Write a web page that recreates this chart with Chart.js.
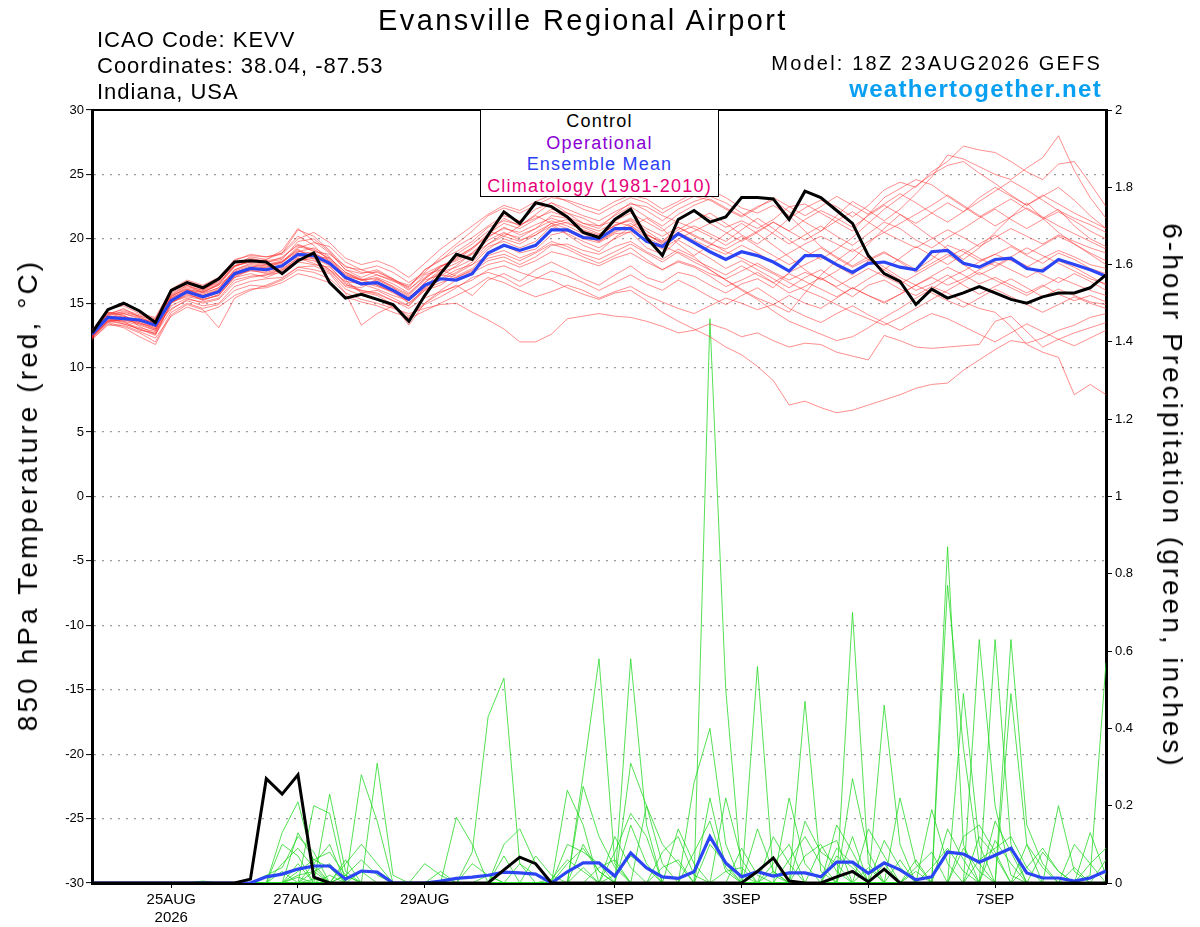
<!DOCTYPE html>
<html>
<head>
<meta charset="utf-8">
<script src="https://cdn.jsdelivr.net/npm/chart.js"></script>
<style>
  body { margin: 0; background: #fff; }
  #wrap { position: relative; width: 1200px; height: 927px; font-family: "Liberation Sans", Arial, sans-serif; }
  .t { position: absolute; white-space: nowrap; color: #000; line-height: 1; }
  #legend { position: absolute; left: 480px; top: 109px; width: 237px; height: 85px; border: 1px solid #000; background: #fff;
            text-align: center; font-size: 18px; letter-spacing: 1.2px; line-height: 21.5px; padding-top: 1px; }
</style>
</head>
<body>
<div id="wrap">
  <canvas id="mychart"></canvas>
  <div class="t" style="left:378px;top:6px;font-size:29px;letter-spacing:2.4px">Evansville Regional Airport</div>
  <div class="t" style="left:97px;top:29px;font-size:22px;letter-spacing:1px">ICAO Code: KEVV</div>
  <div class="t" style="left:97px;top:55px;font-size:22px;letter-spacing:1px">Coordinates: 38.04, -87.53</div>
  <div class="t" style="left:97px;top:81px;font-size:22px;letter-spacing:1px">Indiana, USA</div>
  <div class="t" style="right:98px;top:53px;font-size:20px;letter-spacing:2.2px">Model: 18Z 23AUG2026 GEFS</div>
  <div class="t" style="right:98px;top:77px;font-size:24px;font-weight:bold;letter-spacing:1.3px;color:#0aa0f2">weathertogether.net</div>
  <div class="t" style="left:28px;top:495px;font-size:28px;letter-spacing:3.1px;transform:translate(-50%,-50%) rotate(-90deg)">850 hPa Temperature (red, °C)</div>
  <div class="t" style="left:1172px;top:496px;font-size:28px;letter-spacing:3px;transform:translate(-50%,-50%) rotate(90deg)">6-hour Precipitation (green, inches)</div>
  <div id="legend">
    <div style="color:#000">Control</div>
    <div style="color:#8a00d4">Operational</div>
    <div style="color:#2b3ff5">Ensemble Mean</div>
    <div style="color:#e6007a">Climatology (1981-2010)</div>
  </div>
</div>
<script>
// x ticks (6-hourly steps from 18Z 23AUG)
var tickPos  = [5, 13, 21, 33, 41, 49, 57]
var tickText = ['25AUG', '27AUG', '29AUG', '1SEP', '3SEP', '5SEP', '7SEP']
var tickYear = ['2026', '', '', '', '', '', '']

// control and ensemble mean, 850 hPa temperature
var ctrlT = [12.7,14.5,15.0,14.4,13.5, 16.0,16.6,16.2,16.9,18.2, 18.3,18.2,17.3,18.3,18.9, 16.6,15.4,15.7,15.3,14.9,
  13.6,15.6,17.3,18.8,18.4, 20.3,22.1,21.2,22.8,22.5, 21.7,20.5,20.1,21.5,22.3, 20.1,18.7,21.5,22.2,21.3,
  21.7,23.2,23.2,23.1,21.5, 23.7,23.2,22.2,21.2,18.7, 17.3,16.7,14.9,16.1,15.4, 15.8,16.3,15.8,15.3,15.0,
  15.5,15.8,15.8,16.2,17.2]
var meanT = [12.6,13.9,13.8,13.7,13.3, 15.2,15.9,15.5,15.9,17.3, 17.7,17.6,17.9,18.8,18.7, 18.1,17.0,16.5,16.6,16.0,
  15.3,16.4,16.9,16.8,17.3, 18.9,19.5,19.1,19.5,20.7, 20.7,20.1,20.0,20.8,20.8, 19.8,19.4,20.4,19.7,19.0,
  18.4,19.0,18.7,18.2,17.5, 18.7,18.7,18.0,17.4,18.1, 18.2,17.8,17.6,19.0,19.1, 18.1,17.8,18.4,18.5,17.7,
  17.5,18.4,18.0,17.6,17.1]

// ensemble members, temperature
var memT1 = [12.4,13.6,13.9,13.5,13.0, 15.5,16.3,16.0,16.8,17.9, 18.3,18.1,18.6,19.5,19.2, 18.4,17.2,16.8,17.0,16.5, 15.8,16.9,17.8,18.6,19.3, 20.4,21.2,20.8,21.5,22.3, 22.0,21.6,21.0,21.8,22.5, 21.7,21.0,21.9,22.6,23.1, 22.4,21.8,22.5,23.0,22.1, 21.3,20.6,21.8,22.9,22.2, 21.4,22.3,23.5,24.8,26.5, 26.2,25.6,25.0,24.6,25.5, 26.3,28.0,25.3,23.2,21.6]
var memT2 = [12.8,14.2,14.1,13.2,12.6, 15.0,15.7,15.3,15.6,17.0, 17.6,17.8,18.2,19.2,18.4, 17.6,16.4,16.2,16.9,16.3, 15.0,16.0,16.4,17.3,18.0, 19.2,20.0,19.6,20.3,21.2, 21.5,20.9,20.4,21.0,21.5, 20.6,19.8,20.7,21.4,22.0, 21.2,20.3,19.6,20.5,21.6, 22.4,23.0,22.5,21.7,22.6, 23.8,24.4,24.0,25.2,26.0, 27.2,26.9,26.7,26.0,25.2, 24.6,25.8,26.0,24.3,22.5]
var memT3 = [12.5,13.8,13.5,13.1,12.8, 14.8,15.4,15.0,15.3,16.6, 17.0,17.2,17.4,18.2,18.0, 17.8,16.6,16.0,15.8,15.2, 14.6,15.4,15.9,16.3,16.8, 17.6,17.9,17.4,17.0,16.8, 16.2,15.7,15.3,15.8,16.0, 15.2,14.3,13.6,13.0,12.4, 11.6,11.0,10.1,9.0,7.1, 7.4,6.9,6.5,6.7,7.1, 7.5,7.9,8.4,8.7,8.8, 9.8,10.6,11.4,12.1,11.9, 12.3,12.9,13.3,13.9,14.2]
var memT4 = [12.7,14.0,14.4,14.0,13.6, 15.6,16.1,15.8,16.2,17.5, 17.9,17.7,17.9,18.6,18.9, 18.2,16.9,16.4,16.8,16.2, 15.6,16.8,17.2,17.0,17.6, 18.5,18.8,18.3,18.9,19.6, 19.2,18.6,18.1,18.7,19.3, 18.4,17.6,18.2,17.8,17.1, 16.3,16.8,17.4,16.6,15.8, 16.3,17.0,16.2,15.5,16.4, 16.8,16.1,15.6,16.3,15.8, 15.1,14.6,14.3,13.2,11.8, 11.2,10.8,7.9,8.7,7.9]
var memT5 = [12.3,13.5,13.2,12.7,12.0, 14.3,15.0,14.6,14.9,16.0, 16.4,16.3,16.8,17.6,17.4, 16.9,15.8,15.3,15.0,14.6, 14.2,14.6,14.9,15.0,14.3, 13.7,13.0,12.0,12.0,12.6, 13.8,14.0,14.2,14.0,13.9, 13.6,13.2,12.7,12.9,13.4, 13.0,12.4,12.7,12.1,11.6, 11.9,11.8,11.2,10.9,10.6, 12.5,12.1,11.6,11.5,11.6, 11.7,11.8,13.6,14.0,12.8, 11.6,12.2,12.7,13.1,13.5]
var memT6 = [12.6,14.1,14.6,13.9,13.4, 15.9,16.6,16.1,16.7,18.1, 18.5,18.2,18.4,19.8,20.0, 19.0,17.6,17.3,17.6,16.9, 16.2,17.6,18.3,19.4,20.1, 21.0,21.8,21.4,22.3,22.8, 22.0,21.2,20.8,21.9,22.8, 22.2,21.4,22.3,22.9,23.3, 22.8,22.0,21.2,20.4,19.6, 20.3,21.0,20.2,19.5,20.4, 21.3,20.8,19.9,19.3,20.1, 20.8,21.6,22.3,21.5,20.8, 21.5,22.1,21.4,20.6,20.0]
var memT7 = [12.9,14.3,14.0,13.6,13.8, 15.4,16.0,15.9,16.4,17.4, 17.8,18.0,18.3,19.1,18.6, 18.5,17.4,16.9,16.4,15.9, 15.4,16.6,17.6,18.1,18.8, 19.6,20.4,20.1,20.8,21.4, 21.0,20.4,19.8,20.6,21.2, 20.4,19.6,20.5,21.0,20.4, 19.8,20.7,21.6,20.8,19.9, 19.1,18.4,19.2,20.1,21.2, 22.3,23.2,24.1,25.0,25.7, 26.0,25.1,24.3,23.4,22.6, 23.3,24.0,23.0,21.8,20.8]
var memT8 = [12.4,13.7,13.4,13.0,12.5, 15.0,15.8,15.2,15.7,17.0, 17.3,17.0,17.5,18.4,18.6, 18.0,17.3,16.8,17.2,16.8, 16.0,17.2,17.6,17.1,17.7, 18.9,19.5,18.9,19.2,20.3, 20.6,20.0,19.7,20.4,20.5, 19.3,18.8,19.9,19.2,18.5, 17.7,18.3,17.6,16.9,16.2, 17.0,17.6,16.8,16.1,16.9, 17.6,16.8,16.0,16.5,17.2, 16.4,15.7,16.3,16.9,16.2, 15.5,16.1,15.6,15.1,14.9]
var memT9 = [12.2,13.4,13.1,12.4,11.8, 14.1,14.9,14.5,13.1,15.4, 16.0,16.4,16.9,17.8,17.6, 17.3,15.8,13.3,14.2,14.8, 14.0,15.0,15.8,16.4,15.6, 16.8,17.3,16.7,17.6,18.2, 17.6,16.9,16.4,17.2,17.9, 17.0,16.6,17.4,17.1,16.4, 15.8,16.5,16.9,16.2,17.4, 18.0,18.6,17.9,17.2,18.3, 18.9,18.3,17.6,18.4,19.5, 19.0,18.3,18.8,19.4,18.7, 18.1,18.9,18.4,17.7,17.3]
var memT10 = [12.6,13.9,14.2,13.8,13.5, 15.3,16.0,15.7,16.2,17.6, 18.0,17.8,18.1,19.3,19.7, 19.4,18.2,17.6,17.9,17.4, 16.6,17.4,18.6,19.6,20.6, 21.8,22.4,22.0,22.6,23.2, 23.0,22.6,22.2,22.9,23.4, 23.1,22.3,22.9,23.6,23.8, 23.2,22.4,22.0,22.6,21.8, 20.6,19.4,18.6,17.9,18.6, 17.8,17.0,16.4,17.1,17.8, 17.2,16.5,17.0,16.4,15.8, 16.4,15.7,15.2,15.6,15.1]
var memT11 = [12.5,13.8,13.6,13.3,12.9, 15.1,15.6,15.4,15.8,17.2, 17.5,17.4,17.7,18.5,18.3, 17.6,16.7,16.5,16.1,15.6, 15.2,16.2,16.8,17.4,18.2, 19.4,19.8,19.3,19.8,21.0, 21.3,20.6,20.2,21.1,21.4, 20.3,19.8,20.9,20.2,19.6, 19.2,19.9,20.6,21.3,20.6, 21.5,22.2,21.6,20.9,21.8, 22.6,21.9,21.2,22.0,22.8, 22.1,23.2,24.0,23.3,22.6, 23.4,22.7,22.0,21.4,20.8]
var memT12 = [12.4,13.6,13.7,13.4,13.2, 14.6,15.2,14.8,15.0,16.3, 16.7,16.9,17.0,17.8,17.9, 17.4,16.1,15.6,15.3,14.7, 13.8,14.4,15.0,15.6,16.2, 17.0,16.6,16.0,15.5,15.9, 16.4,16.0,15.4,15.9,16.3, 15.6,15.1,14.6,14.2,14.8, 15.4,15.0,14.5,14.9,15.6, 15.0,14.6,15.4,16.2,15.6, 15.1,15.7,16.4,17.0,16.4, 16.9,17.6,18.2,17.6,17.0, 17.7,18.3,17.8,17.1,16.4]
var memT13 = [12.8,14.0,13.9,13.6,13.1, 15.4,16.1,15.6,16.1,17.6, 18.1,17.9,18.2,19.0,19.3, 18.6,17.0,16.6,16.6,16.1, 15.5,16.4,17.1,17.9,18.9, 20.1,20.9,20.3,20.8,21.8, 21.6,21.0,20.6,21.3,21.0, 20.1,19.5,18.9,18.2,17.6, 16.8,16.0,15.3,14.4,13.6, 13.1,12.6,12.1,12.4,13.1, 13.9,14.6,15.4,16.1,16.9, 17.5,18.2,18.8,18.3,17.8, 18.5,19.1,18.6,18.0,17.7]
var memT14 = [12.6,14.0,13.8,13.6,13.6, 15.7,16.4,16.0,16.5,17.9, 18.2,18.4,18.9,20.7,20.2, 19.1,17.8,17.6,17.2,16.7, 16.3,17.6,18.4,19.0,19.8, 20.9,21.4,21.1,21.6,22.1, 21.7,21.2,21.0,21.4,22.0, 21.3,20.6,21.5,22.2,21.6, 20.9,21.4,20.8,21.5,22.5, 22.7,22.0,21.3,20.6,21.9, 23.2,23.9,24.6,24.2,23.3, 22.5,21.7,22.4,23.1,22.3, 21.6,22.3,21.0,20.0,19.4]
var memT15 = [12.5,13.7,13.6,12.9,12.7, 15.1,15.5,15.3,15.6,17.1, 17.6,17.5,17.8,18.8,18.7, 18.0,16.9,16.6,16.3,15.9, 15.0,16.1,16.6,17.0,17.5, 18.3,18.6,18.0,18.6,19.5, 19.6,19.1,18.8,19.4,19.8, 19.0,18.4,19.2,18.6,17.6, 16.8,16.1,15.4,14.9,14.3, 15.8,17.2,18.3,19.2,18.4, 17.6,18.5,19.4,18.7,18.0, 18.8,19.6,20.3,19.5,18.8, 19.5,20.2,19.6,18.9,18.3]
var memT16 = [12.7,14.1,14.3,14.0,13.7, 15.5,16.2,15.9,16.4,17.8, 18.4,18.3,18.5,19.6,19.0, 18.8,17.9,17.4,17.4,16.9, 16.1,17.0,17.9,18.4,19.2, 20.3,21.6,21.0,21.9,22.8, 22.3,21.8,21.4,22.1,22.7, 22.5,21.8,21.3,20.8,20.2, 19.5,20.2,19.4,18.7,18.0, 18.6,19.3,18.5,17.8,18.4, 19.0,18.2,17.4,18.1,18.8, 18.0,17.2,17.8,18.5,17.9, 17.2,16.6,17.3,16.7,16.0]
var memT17 = [12.3,13.5,13.8,13.4,12.9, 15.2,15.9,15.6,16.0,17.3, 17.7,17.6,17.9,19.0,18.9, 18.3,17.1,16.8,16.4,15.8, 15.2,16.6,17.4,17.8,18.4, 19.6,20.2,19.8,20.5,21.2, 20.8,20.2,19.8,20.5,21.0, 20.3,19.7,20.5,19.9,19.3, 18.8,19.5,18.9,18.2,18.9, 19.6,20.2,19.6,19.0,19.8, 20.5,19.9,19.3,20.0,20.7, 20.1,19.4,20.1,20.8,20.2, 19.6,20.3,19.8,19.3,18.9]
var memT18 = [12.4,13.6,13.4,13.0,12.6, 14.5,15.3,15.1,15.4,16.8, 17.1,17.2,17.6,18.3,18.5, 17.9,16.5,15.9,15.6,14.9, 13.3,15.0,16.0,16.8,17.4, 18.0,18.3,17.8,18.3,19.0, 18.7,18.3,17.9,18.5,18.9, 18.2,17.6,18.3,17.9,17.3, 16.9,17.5,18.1,17.4,16.8, 17.4,16.9,16.3,17.0,17.7, 17.1,16.5,17.2,17.9,18.6, 19.2,18.5,17.9,18.6,19.3, 18.7,18.1,17.5,16.9,16.5]
var memT19 = [12.9,14.6,14.8,14.2,13.9, 16.1,16.8,16.4,17.0,18.4, 18.7,18.6,18.9,20.2,19.5, 18.2,16.8,15.8,16.0,15.4, 14.8,16.2,17.5,18.8,19.6, 20.6,20.2,21.0,21.8,21.2, 20.3,19.5,19.0,20.1,20.9, 21.6,20.8,19.6,18.7,19.5, 20.4,21.2,20.4,19.5,18.6, 17.6,16.8,17.5,18.4,19.6, 20.8,21.9,21.0,20.1,19.2, 18.4,19.3,20.5,21.7,22.8, 21.6,20.5,19.6,18.8,18.0]
var memT20 = [12.2,13.3,13.3,12.8,12.3, 14.0,14.7,14.3,14.7,15.6, 16.1,16.2,16.6,17.3,17.0, 16.6,15.5,15.1,14.8,14.3, 13.9,14.9,15.5,16.2,17.0, 17.4,17.0,16.3,16.9,17.5, 17.1,16.6,16.0,16.6,17.2, 16.5,16.0,16.8,16.2,15.5, 14.9,15.6,16.2,15.4,14.6, 14.0,13.5,14.2,14.8,14.1, 13.5,12.9,13.6,14.2,13.8, 13.2,12.6,12.0,12.7,13.4, 12.8,12.2,11.7,12.3,12.9]
var memT21 = [12.6,14.2,14.5,14.1,13.8, 16.0,16.7,16.3,16.9,18.3, 18.8,18.6,18.8,20.0,20.5, 19.7,18.5,18.0,18.3,17.8, 17.0,18.1,19.2,20.1,21.0, 21.9,22.6,22.2,22.9,23.4, 22.9,22.3,21.9,22.6,23.2, 22.8,22.0,22.7,23.3,23.0, 22.3,21.7,22.4,23.2,22.5, 21.8,22.5,23.3,22.6,21.9, 22.7,23.5,22.8,22.0,21.3, 22.1,22.9,23.7,24.5,23.8, 23.0,22.2,21.6,21.1,20.5]
var memT22 = [12.5,13.9,13.7,13.5,13.0, 15.3,15.8,15.5,16.0,17.4, 17.6,17.3,17.6,18.5,18.1, 17.5,16.3,16.0,15.7,15.2, 14.8,16.0,16.9,17.6,18.0, 18.7,19.1,18.5,19.0,19.8, 19.4,18.8,18.4,19.0,19.6, 18.9,18.2,19.0,18.4,17.8, 17.2,17.9,17.2,16.6,17.3, 16.7,16.1,15.5,16.2,15.6, 15.0,15.7,16.4,15.8,15.2, 14.7,15.4,16.1,15.5,14.9, 14.3,14.9,15.5,15.0,14.6]
var memT23 = [12.7,14.3,14.2,13.9,13.4, 15.8,16.5,16.1,16.6,17.9, 18.2,18.0,18.2,19.4,19.1, 18.5,17.4,16.8,16.9,16.3, 15.7,16.9,17.8,18.5,19.3, 20.2,20.8,20.5,21.1,21.6, 21.2,20.7,20.3,21.0,21.6, 20.8,20.2,20.9,20.3,19.7, 19.0,18.5,17.9,17.3,16.6, 16.0,15.5,14.9,14.3,13.8, 13.3,13.9,14.6,15.3,16.0, 16.7,17.4,16.8,16.2,15.6, 16.3,17.0,16.5,16.0,15.6]
var memT24 = [12.4,13.9,14.0,13.7,13.2, 15.6,16.4,15.8,16.5,17.9, 18.6,18.4,19.1,20.8,19.8, 18.9,17.6,17.0,17.5,16.8, 16.4,17.3,17.9,18.3,18.9, 19.9,20.5,19.9,20.3,21.0, 20.4,19.8,19.3,20.0,20.6, 19.9,19.2,20.0,20.6,21.2, 20.5,19.8,20.5,21.3,20.6, 19.9,20.6,21.4,22.1,21.3, 20.5,21.2,21.9,22.6,23.4, 22.6,21.8,21.0,21.7,22.4, 21.7,21.0,20.4,19.8,19.2]

// control and ensemble mean, 6-hour precipitation (inches)
var ctrlP = [0,0,0,0,0, 0,0,0,0,0, 0.01,0.27,0.23,0.28,0.015, 0,0,0,0,0, 0,0,0,0,0, 0,0.034,0.067,0.05,0,
  0,0,0,0,0, 0,0,0,0,0, 0,0,0.03,0.065,0.005, 0,0,0.016,0.03,0.003, 0.036,0,0,0,0, 0,0,0,0,0, 0,0,0,0,0]
var meanP = [0,0,0,0,0, 0,0,0,0,0, 0,0.016,0.023,0.036,0.044, 0.044,0.01,0.031,0.028,0, 0,0,0.005,0.012,0.015,
  0.02,0.028,0.026,0.023,0, 0.029,0.052,0.052,0.018,0.078, 0.039,0.016,0.012,0.029,0.12, 0.052,0.016,0.029,0.018,0.026,
  0.026,0.016,0.054,0.054,0.025, 0.052,0.034,0.008,0.016,0.08, 0.075,0.054,0.072,0.09,0.026, 0.013,0.013,0.005,0.013,0.031]

// ensemble members, precipitation
var memP1 = [0,0,0,0,0, 0,0,0,0,0, 0,0,0.13,0.21,0.05, 0,0,0,0,0, 0,0,0,0,0.08, 0.43,0.53,0.05,0,0, 0,0,0,0,0, 0,0,0,0,1.46, 0.5,0.02,0,0,0, 0,0,0,0,0, 0,0,0,0,0.87, 0.1,0,0,0,0, 0,0,0,0,0]
var memP2 = [0,0,0,0,0, 0,0,0,0,0, 0,0,0,0.05,0, 0.23,0.03,0,0.31,0.02, 0,0,0,0,0, 0,0,0,0,0, 0,0.28,0.58,0.05,0, 0,0,0,0,0, 0,0,0,0,0, 0,0,0,0.7,0.05, 0,0,0,0,0, 0,0,0.63,0.1,0, 0,0,0,0,0]
var memP3 = [0,0,0,0,0, 0,0,0,0,0, 0,0,0,0,0.2, 0.18,0,0.28,0.16,0, 0,0,0,0,0, 0,0,0,0,0, 0,0,0,0,0.58, 0.15,0,0,0,0, 0,0,0,0,0, 0.47,0.03,0,0,0, 0,0,0,0,0, 0,0.63,0.2,0.02,0, 0,0,0,0,0]
var memP4 = [0,0,0,0,0, 0,0,0,0,0, 0,0.02,0.04,0.12,0.08, 0,0,0,0,0, 0,0,0,0.17,0.1, 0,0,0,0,0, 0,0,0,0,0.31, 0.2,0.05,0,0,0, 0,0,0.56,0.02,0, 0,0,0,0,0, 0,0,0,0,0.77, 0.35,0.05,0,0,0, 0,0,0,0,0]
var memP5 = [0,0,0,0,0, 0,0,0,0,0, 0,0,0.1,0.07,0, 0,0.05,0.1,0.05,0, 0,0,0,0,0, 0,0,0,0,0, 0.24,0.15,0,0,0, 0,0,0,0.26,0.4, 0.1,0,0,0,0, 0,0,0,0,0, 0.46,0.1,0,0,0, 0,0,0,0.63,0.15, 0.05,0,0,0,0]
var memP6 = [0,0,0,0,0, 0,0,0,0,0, 0,0,0,0.13,0.06, 0.08,0.02,0,0,0, 0,0,0.03,0,0, 0,0,0,0,0, 0,0.25,0.12,0.04,0, 0,0,0.14,0.05,0, 0,0,0,0,0.22, 0.05,0,0,0,0, 0,0,0,0,0, 0.49,0.1,0,0,0, 0,0,0,0.02,0.57]
var memP7 = [0,0,0,0,0, 0,0,0,0,0, 0,0,0,0,0.05, 0.1,0,0.03,0,0, 0,0,0,0,0, 0,0.1,0.14,0.05,0, 0,0,0,0.08,0.18, 0.12,0,0,0,0, 0.22,0.06,0,0,0, 0,0,0,0.27,0.08, 0,0,0,0.19,0.05, 0,0,0,0.49,0.1, 0,0,0,0,0]
var memP8 = [0,0,0,0,0, 0,0,0,0,0, 0,0,0.05,0.09,0.04, 0,0,0,0,0, 0,0,0,0,0, 0.02,0,0,0,0, 0.1,0.08,0.05,0,0, 0,0,0,0,0, 0,0,0,0.12,0.05, 0,0,0.15,0.08,0, 0,0.22,0.05,0,0, 0,0,0,0,0, 0,0.2,0.03,0,0]
var memP9 = [0,0,0,0,0, 0,0,0,0,0, 0,0,0,0.03,0.06, 0.04,0,0,0,0, 0,0,0,0,0, 0,0,0,0.07,0.02, 0,0,0,0,0, 0.2,0.1,0.05,0,0, 0,0,0,0,0.06, 0.12,0.05,0,0,0, 0,0,0,0,0, 0.12,0.15,0.08,0,0, 0,0,0,0.13,0.02]
var memP10 = [0,0,0,0,0, 0,0,0,0,0, 0,0,0,0,0, 0,0.06,0,0,0, 0,0,0,0,0, 0,0.07,0,0,0, 0,0,0.04,0.06,0, 0,0,0,0,0.22, 0.04,0,0,0,0, 0,0.09,0.11,0,0.14, 0.07,0,0.06,0,0, 0,0,0.16,0.08,0, 0,0,0.1,0.05,0]
var memP11 = [0,0,0,0,0, 0,0,0.005,0,0, 0,0,0,0.02,0.03, 0,0,0,0,0, 0,0,0,0,0.05, 0.02,0,0,0,0, 0,0.1,0.03,0,0, 0,0,0,0.08,0.16, 0.03,0,0,0,0, 0.16,0.08,0.05,0,0, 0.11,0.04,0,0,0.14, 0.06,0,0,0,0.1, 0.04,0,0,0,0]
var memP12 = [0,0,0,0,0, 0,0,0,0,0, 0,0,0.03,0,0, 0,0,0,0,0, 0,0,0,0,0, 0,0,0,0,0.01, 0.06,0.03,0,0,0.15, 0.05,0,0,0,0, 0,0.09,0.02,0,0, 0,0,0,0.12,0, 0,0,0.04,0.08,0, 0,0.12,0.07,0,0, 0,0,0,0,0.06]
var memP13 = [0,0,0,0,0, 0,0,0,0,0, 0,0,0,0,0.01, 0,0.02,0,0,0, 0,0.05,0.02,0,0, 0,0,0.05,0.02,0, 0,0,0,0.12,0.04, 0,0,0,0,0, 0,0,0.14,0.03,0, 0,0,0.07,0.04,0, 0.05,0,0,0,0, 0.09,0.03,0,0,0, 0.08,0.03,0,0,0]
var memP14 = [0,0,0,0,0, 0,0,0,0,0, 0,0,0,0.015,0, 0.02,0,0,0,0, 0,0,0,0,0, 0,0,0,0,0, 0,0.04,0,0,0, 0,0.08,0.12,0.02,0, 0,0,0,0.05,0.1, 0,0,0,0,0.04, 0,0.06,0,0,0, 0,0,0.11,0.05,0, 0,0,0.04,0,0]
var memP15 = [0,0,0,0,0, 0,0,0,0,0, 0,0,0,0,0, 0,0.02,0.06,0.02,0, 0,0,0,0,0, 0,0,0,0,0, 0.05,0.09,0.03,0,0, 0,0.04,0.06,0,0, 0.03,0.04,0,0,0, 0.07,0.1,0.03,0,0, 0,0,0,0.04,0.09, 0.03,0,0,0,0.04, 0.09,0.03,0,0,0]
var memP16 = [0,0,0,0,0, 0,0,0,0,0, 0,0,0,0,0.03, 0.05,0,0,0,0, 0,0,0,0,0, 0,0,0,0,0, 0,0,0,0.02,0.07, 0.04,0,0,0,0.1, 0.05,0,0,0.03,0, 0,0,0.09,0.05,0, 0,0,0.03,0,0, 0,0.06,0.09,0.12,0.04, 0,0,0,0.05,0.09]

var tempMembers = [memT1, memT2, memT3, memT4, memT5, memT6, memT7, memT8, memT9, memT10, memT11, memT12,
    memT13, memT14, memT15, memT16, memT17, memT18, memT19, memT20, memT21, memT22, memT23, memT24]
var precMembers = [memP1, memP2, memP3, memP4, memP5, memP6, memP7, memP8, memP9, memP10, memP11, memP12,
    memP13, memP14, memP15, memP16]

function pts(arr) {
    return arr.map((v, i) => ({ x: i, y: v }))
}

function line(arr, axis, color, width, order) {
    return {
        data: pts(arr),
        yAxisID: axis,
        borderColor: color,
        borderWidth: width,
        pointRadius: 0,
        tension: 0,
        fill: false,
        order: order
    }
}

var datasets = []
tempMembers.forEach(m => datasets.push(line(m, 'y', 'rgba(255,45,45,0.6)', 0.9, 3)))
precMembers.forEach(m => datasets.push(line(m, 'y2', 'rgba(30,215,30,0.85)', 0.9, 3)))
datasets.push(line(meanP, 'y2', '#2b45f5', 3.2, 1))
datasets.push(line(meanT, 'y', '#2b45f5', 3.2, 1))
datasets.push(line(ctrlP, 'y2', '#000', 3, 0))
datasets.push(line(ctrlT, 'y', '#000', 3, 0))

var frame = {
    id: 'frame',
    afterDraw(chart) {
        var a = chart.chartArea, ctx = chart.ctx
        ctx.save()
        ctx.strokeStyle = '#000'
        ctx.lineWidth = 2
        ctx.beginPath()
        ctx.moveTo(a.left, a.top)
        ctx.lineTo(a.right, a.top)
        ctx.stroke()
        ctx.restore()
    }
}

var mychart = new Chart(document.getElementById('mychart'), {
    type: 'line',
    data: { datasets: datasets },
    plugins: [frame],
    options: {
        responsive: true,
        maintainAspectRatio: false,
        animation: false,
        events: [],
        layout: { padding: { top: 110, left: 0, right: 0, bottom: 0 } },
        plugins: { legend: { display: false }, tooltip: { enabled: false } },
        scales: {
            x: {
                type: 'linear', min: 0, max: 64,
                afterBuildTicks: s => { s.ticks = tickPos.map(v => ({ value: v })) },
                afterFit: s => { s.height = 44 },
                ticks: {
                    autoSkip: false, maxRotation: 0, padding: 3, color: '#000',
                    font: { family: 'Liberation Sans', size: 15 },
                    callback: v => {
                        var k = tickPos.indexOf(v)
                        if (k < 0) return ''
                        return tickYear[k] ? [tickText[k], tickYear[k]] : tickText[k]
                    }
                },
                grid: { drawOnChartArea: false, tickLength: 5, color: '#000' },
                border: { color: '#000', width: 3 }
            },
            y: {
                position: 'left', min: -30, max: 30,
                afterFit: s => { s.width = 92 },
                ticks: { stepSize: 5, padding: 2, color: '#000', font: { family: 'Liberation Sans', size: 13 } },
                grid: {
                    color: c => (c.tick && Math.abs(c.tick.value) === 30) ? 'rgba(0,0,0,0)' : '#9a9a9a',
                    lineWidth: 1.2,
                    tickLength: 6, tickColor: '#000', tickWidth: 1, tickBorderDash: []
                },
                border: { color: '#000', width: 3, dash: [2, 6] }
            },
            y2: {
                position: 'right', min: 0, max: 2,
                afterFit: s => { s.width = 94 },
                ticks: {
                    stepSize: 0.2, padding: 3, color: '#000', font: { family: 'Liberation Sans', size: 13 },
                    callback: v => String(Math.round(v * 10) / 10)
                },
                grid: { drawOnChartArea: false, tickLength: 6, color: '#000' },
                border: { color: '#000', width: 3 }
            }
        }
    }
})
</script>
</body>
</html>
